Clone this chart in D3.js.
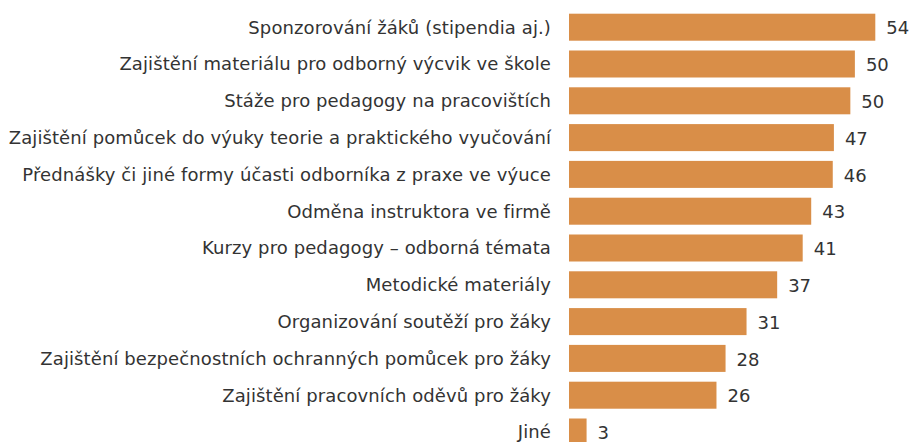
<!DOCTYPE html>
<html>
<head>
<meta charset="utf-8">
<script src="https://cdn.jsdelivr.net/npm/d3@7"></script>
<style>
  body { margin: 0; background: #fff; }
  text { font-family: "DejaVu Sans", Verdana, sans-serif; fill: #333; }
</style>
</head>
<body>
<div id="chart"></div>
<script>
// categories and values
var categories = [
  "Sponzorování žáků (stipendia aj.)",
  "Zajištění materiálu pro odborný výcvik ve škole",
  "Stáže pro pedagogy na pracovištích",
  "Zajištění pomůcek do výuky teorie a praktického vyučování",
  "Přednášky či jiné formy účasti odborníka z praxe ve výuce",
  "Odměna instruktora ve firmě",
  "Kurzy pro pedagogy – odborná témata",
  "Metodické materiály",
  "Organizování soutěží pro žáky",
  "Zajištění bezpečnostních ochranných pomůcek pro žáky",
  "Zajištění pracovních oděvů pro žáky",
  "Jiné"
];
var values = [54, 50.4, 49.6, 46.7, 46.5, 42.7, 41.2, 36.7, 31.3, 27.6, 26.0, 3.1];
var valueLabels = ["54", "50", "50", "47", "46", "43", "41", "37", "31", "28", "26", "3"];

var svgWidth = 912;
var svgHeight = 442;

var svg = d3.select("#chart")
  .append("svg")
  .attr("width", svgWidth)
  .attr("height", svgHeight);

var rows = categories.map(function(c, i) {
  return { cat: c, value: values[i], label: valueLabels[i] };
});

// x scale: bars start at 569
var xScale = d3.scaleLinear()
  .domain([0, 54])
  .range([569, 875.3]);

// y band scale
var yScale = d3.scaleBand()
  .domain(categories)
  .range([8.8, 8.8 + 36.8 * 12])
  .paddingInner(0.266)
  .paddingOuter(0.133);

// bars
svg.selectAll("rect.bar")
  .data(rows)
  .enter()
  .append("rect")
  .attr("class", "bar")
  .attr("x", xScale(0))
  .attr("y", d => yScale(d.cat))
  .attr("width", d => xScale(d.value) - xScale(0))
  .attr("height", yScale.bandwidth())
  .attr("fill", "#d98e48");

// category labels
svg.selectAll("text.cat")
  .data(rows)
  .enter()
  .append("text")
  .attr("class", "cat")
  .attr("x", 551)
  .attr("y", d => yScale(d.cat) + yScale.bandwidth() / 2)
  .attr("dy", "0.35em")
  .attr("text-anchor", "end")
  .style("font-size", "18px")
  .style("letter-spacing", "0.1px")
  .text(d => d.cat);

// value labels
svg.selectAll("text.val")
  .data(rows)
  .enter()
  .append("text")
  .attr("class", "val")
  .attr("x", d => xScale(d.value) + 11)
  .attr("y", d => yScale(d.cat) + yScale.bandwidth() / 2)
  .attr("dy", "0.4em")
  .style("font-size", "18px")
  .text(d => d.label);
</script>
</body>
</html>
